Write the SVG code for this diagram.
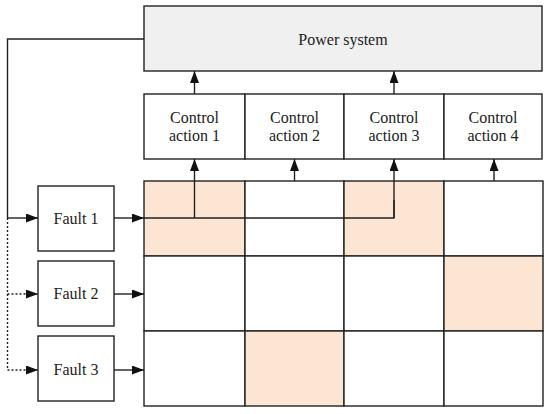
<svg xmlns="http://www.w3.org/2000/svg" width="550" height="414" viewBox="0 0 550 414">
<style>
.box{fill:#fff;stroke:#222;stroke-width:1.4}
.ps{fill:#f0f0f0;stroke:#222;stroke-width:1.4}
.hl{fill:#fde5d4;stroke:#222;stroke-width:1.4}
.cell{fill:#fff;stroke:#222;stroke-width:1.4}
.ln{fill:none;stroke:#222;stroke-width:1.4}
.dot{fill:none;stroke:#222;stroke-width:1.4;stroke-dasharray:2,2}
.arr{marker-end:url(#ah)}
text{font-family:"Liberation Serif","Times New Roman",serif;font-size:16px;fill:#222;text-anchor:middle}
</style>
<defs>
<marker id="ah" markerUnits="userSpaceOnUse" markerWidth="13" markerHeight="10" refX="12" refY="4.5" orient="auto">
<path d="M0,0 L12,4.5 L0,9 z" fill="#111"/>
</marker>
</defs>
<g id="power-system">
<rect class="ps" x="144" y="6" width="398" height="65"/>
<text x="343" y="45">Power system</text>
</g>
<g id="control-actions">
<g id="ca1"><rect class="box" x="144" y="94" width="101" height="65"/><text x="194.5" y="123">Control</text><text x="194.5" y="141">action 1</text></g>
<g id="ca2"><rect class="box" x="245" y="94" width="99" height="65"/><text x="294.5" y="123">Control</text><text x="294.5" y="141">action 2</text></g>
<g id="ca3"><rect class="box" x="344" y="94" width="100" height="65"/><text x="394" y="123">Control</text><text x="394" y="141">action 3</text></g>
<g id="ca4"><rect class="box" x="444" y="94" width="98" height="65"/><text x="493" y="123">Control</text><text x="493" y="141">action 4</text></g>
</g>
<g id="grid">
<rect class="hl" x="144" y="181" width="101" height="75"/>
<rect class="cell" x="245" y="181" width="99" height="75"/>
<rect class="hl" x="344" y="181" width="100" height="75"/>
<rect class="cell" x="444" y="181" width="99" height="75"/>
<rect class="cell" x="144" y="256" width="101" height="75"/>
<rect class="cell" x="245" y="256" width="99" height="75"/>
<rect class="cell" x="344" y="256" width="100" height="75"/>
<rect class="hl" x="444" y="256" width="99" height="75"/>
<rect class="cell" x="144" y="331" width="101" height="75"/>
<rect class="hl" x="245" y="331" width="99" height="75"/>
<rect class="cell" x="344" y="331" width="100" height="75"/>
<rect class="cell" x="444" y="331" width="99" height="75"/>
</g>
<g id="faults">
<g id="fault1"><rect class="box" x="38" y="186" width="76" height="65"/><text x="76" y="224">Fault 1</text></g>
<g id="fault2"><rect class="box" x="38" y="261" width="76" height="65"/><text x="76" y="299">Fault 2</text></g>
<g id="fault3"><rect class="box" x="38" y="336" width="76" height="65"/><text x="76" y="375">Fault 3</text></g>
</g>
<g id="connectors">
<polyline class="ln" points="144,39 7.5,39 7.5,218"/>
<line class="ln arr" x1="7.5" y1="218" x2="38" y2="218"/>
<line class="dot" x1="7.5" y1="218" x2="7.5" y2="370"/>
<line class="dot arr" x1="7.5" y1="294" x2="38" y2="294"/>
<line class="dot arr" x1="7.5" y1="370" x2="38" y2="370"/>
<line class="ln arr" x1="114" y1="218" x2="144" y2="218"/>
<line class="ln arr" x1="114" y1="294" x2="144" y2="294"/>
<line class="ln arr" x1="114" y1="370" x2="144" y2="370"/>
<polyline class="ln" points="144,218 394,218 394,200"/>
<line class="ln arr" x1="394" y1="218" x2="394" y2="159"/>
<line class="ln arr" x1="194.5" y1="218" x2="194.5" y2="159"/>
<line class="ln arr" x1="294.5" y1="181" x2="294.5" y2="159"/>
<line class="ln arr" x1="494" y1="181" x2="494" y2="159"/>
<line class="ln arr" x1="194.5" y1="94" x2="194.5" y2="71"/>
<line class="ln arr" x1="394" y1="94" x2="394" y2="71"/>
</g>
</svg>
